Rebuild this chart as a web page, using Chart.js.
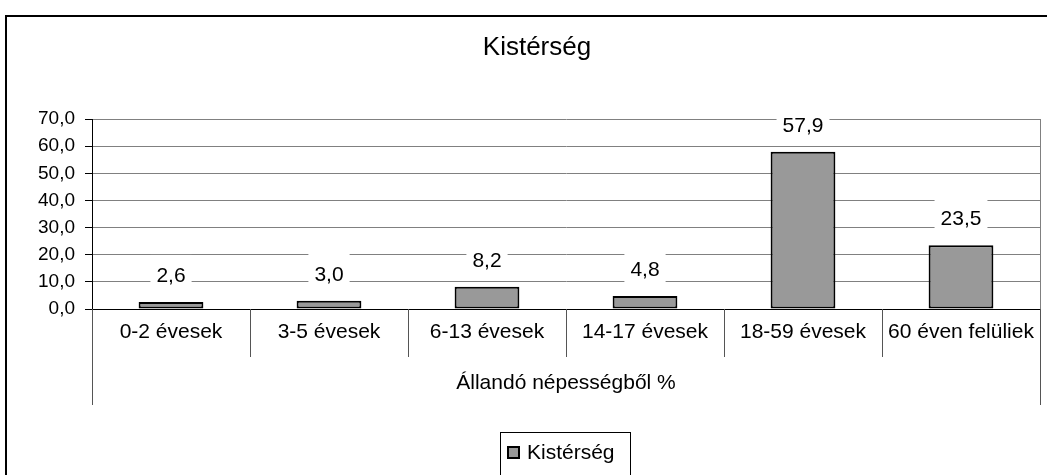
<!DOCTYPE html>
<html>
<head>
<meta charset="utf-8">
<script src="https://cdn.jsdelivr.net/npm/chart.js@4"></script>
<style>
  html, body { margin: 0; padding: 0; background: #fff; }
  #wrap { width: 1047px; height: 475px; position: relative; }
</style>
</head>
<body>
<div id="wrap"><canvas id="chart" width="1047" height="475"></canvas></div>
<script>
'use strict';

// chart data
var categories = ['0-2 évesek', '3-5 évesek', '6-13 évesek', '14-17 évesek', '18-59 évesek', '60 éven felüliek'];
var values = [2.6, 3.0, 8.2, 4.8, 57.9, 23.5];
var seriesName = 'Kistérség';
var chartTitle = 'Kistérség';
var groupLabel = 'Állandó népességből %';
var yTicks = [0, 10, 20, 30, 40, 50, 60, 70];

var FONT = '"Liberation Sans", Arial, sans-serif';
var BAR_FILL = '#999999';

function fmt(v) {
    return v.toFixed(1).replace('.', ',');
}

// frame, title, category separators, value labels, legend
var excelLook = {
    id: 'excelLook',
    beforeDraw: function (chart) {
        var ctx = chart.ctx;
        ctx.save();
        ctx.fillStyle = '#fff';
        ctx.fillRect(0, 0, chart.width, chart.height);
        ctx.strokeStyle = '#000';
        ctx.lineWidth = 2;
        ctx.strokeRect(6, 16, chart.width + 20, chart.height + 20);
        ctx.fillStyle = '#000';
        ctx.font = '26px ' + FONT;
        ctx.textAlign = 'center';
        ctx.textBaseline = 'middle';
        ctx.fillText(chartTitle, 537, 48);
        ctx.restore();
    },
    afterDraw: function (chart) {
        var ctx = chart.ctx;
        var area = chart.chartArea;
        var x = chart.scales.x;
        ctx.save();

        // right border of plot area
        ctx.strokeStyle = '#808080';
        ctx.lineWidth = 1;
        ctx.beginPath();
        ctx.moveTo(Math.round(area.right) + 0.5, area.top);
        ctx.lineTo(Math.round(area.right) + 0.5, area.bottom);
        ctx.stroke();

        // category separators below the axis
        ctx.strokeStyle = '#555';
        for (var i = 0; i <= categories.length; i++) {
            var px;
            if (i === 0) px = area.left;
            else if (i === categories.length) px = area.right;
            else px = (x.getPixelForValue(i - 1) + x.getPixelForValue(i)) / 2;
            var len = (i === 0 || i === categories.length) ? 96 : 48;
            px = Math.round(px) + 0.5;
            ctx.beginPath();
            ctx.moveTo(px, area.bottom);
            ctx.lineTo(px, area.bottom + len);
            ctx.stroke();
        }

        // value labels with white boxes
        var meta = chart.getDatasetMeta(0);
        ctx.font = '21px ' + FONT;
        ctx.textAlign = 'center';
        ctx.textBaseline = 'middle';
        meta.data.forEach(function (bar, idx) {
            var txt = fmt(values[idx]);
            var w = ctx.measureText(txt).width + 12;
            var cy = Math.max(bar.y - 27, area.top);
            ctx.fillStyle = '#fff';
            ctx.fillRect(bar.x - w / 2, cy - 20, w, 40);
            ctx.fillStyle = '#000';
            ctx.fillText(txt, bar.x, cy + 1);
        });

        // legend
        ctx.fillStyle = '#fff';
        ctx.fillRect(500.5, 432.5, 130, 44);
        ctx.strokeStyle = '#000';
        ctx.lineWidth = 1;
        ctx.strokeRect(500.5, 432.5, 130, 44);
        ctx.fillStyle = BAR_FILL;
        ctx.fillRect(508, 447, 11, 11);
        ctx.lineWidth = 2;
        ctx.strokeRect(508, 447, 11, 11);
        ctx.fillStyle = '#000';
        ctx.font = '21px ' + FONT;
        ctx.textAlign = 'left';
        ctx.fillText(seriesName, 527, 453);

        ctx.restore();
    }
};

new Chart(document.getElementById('chart'), {
    type: 'bar',
    data: {
        labels: categories,
        datasets: [{
            label: seriesName,
            data: values,
            backgroundColor: BAR_FILL,
            borderColor: '#000',
            borderWidth: 2,
            borderSkipped: false,
            categoryPercentage: 1.0,
            barPercentage: 0.41
        }]
    },
    options: {
        responsive: false,
        animation: false,
        layout: { padding: { top: 119, right: 7, left: 0, bottom: 0 } },
        plugins: {
            legend: { display: false },
            title: { display: false },
            tooltip: { enabled: false }
        },
        scales: {
            x: {
                grid: { display: false, drawTicks: false },
                border: { display: true, color: '#000', width: 1 },
                ticks: {
                    color: '#000',
                    font: { family: FONT, size: 21 },
                    padding: 11,
                    maxRotation: 0,
                    autoSkip: false
                },
                title: {
                    display: true,
                    text: groupLabel,
                    color: '#000',
                    font: { family: FONT, size: 21 },
                    padding: { top: 0, bottom: 79 }
                },
                afterFit: function (scale) { scale.height = 166; }
            },
            y: {
                min: 0,
                max: 70,
                afterBuildTicks: function (scale) {
                    scale.ticks = yTicks.map(function (v) { return { value: v }; });
                },
                grid: {
                    color: '#808080',
                    tickColor: '#000',
                    tickLength: 7,
                    drawTicks: true
                },
                border: { display: true, color: '#000', width: 1 },
                ticks: {
                    color: '#000',
                    font: { family: FONT, size: 19 },
                    padding: 10,
                    callback: function (v) { return fmt(v); }
                },
                afterFit: function (scale) { scale.width = 92; }
            }
        }
    },
    plugins: [excelLook]
});
</script>
</body>
</html>
